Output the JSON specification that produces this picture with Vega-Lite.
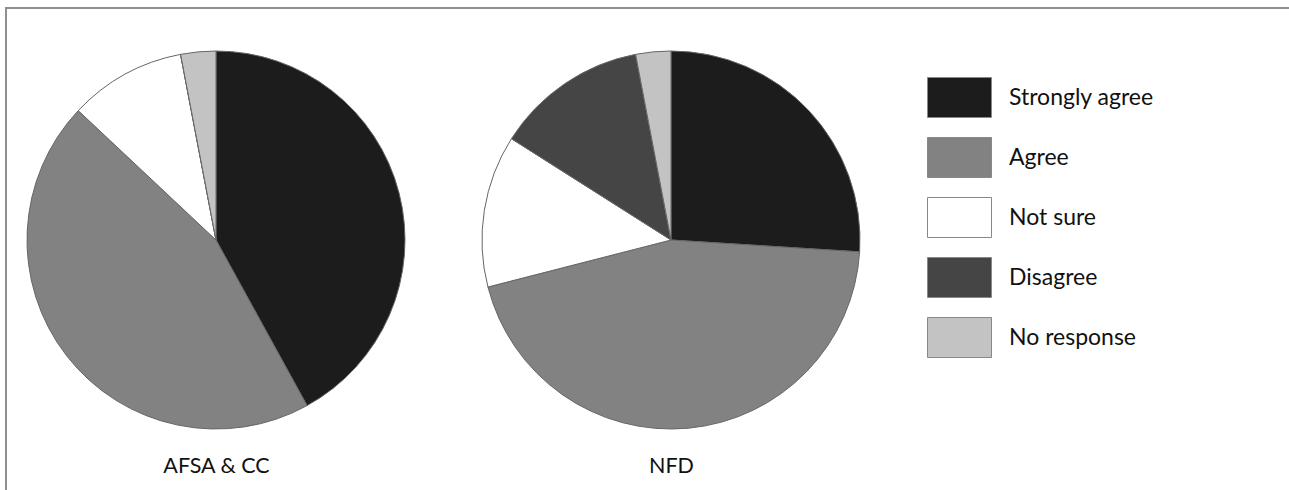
{
  "$schema": "https://vega.github.io/schema/vega-lite/v6.json",
  "width": 1283,
  "height": 482,
  "autosize": "none",
  "padding": {"left": 6, "top": 8, "right": 0, "bottom": 0},
  "background": "white",
  "config": {
    "view": {"stroke": "#8f8f8f", "strokeWidth": 2, "strokeDash": [1283, 1765, 482]},
    "font": "Lato"
  },
  "data": {
    "values": [
      {"group": "AFSA & CC", "response": "Strongly agree", "order": 1, "value": 42},
      {"group": "AFSA & CC", "response": "Agree", "order": 2, "value": 45},
      {"group": "AFSA & CC", "response": "Not sure", "order": 3, "value": 10},
      {"group": "AFSA & CC", "response": "Disagree", "order": 4, "value": 0},
      {"group": "AFSA & CC", "response": "No response", "order": 5, "value": 3},
      {"group": "NFD", "response": "Strongly agree", "order": 1, "value": 26},
      {"group": "NFD", "response": "Agree", "order": 2, "value": 45},
      {"group": "NFD", "response": "Not sure", "order": 3, "value": 13},
      {"group": "NFD", "response": "Disagree", "order": 4, "value": 13},
      {"group": "NFD", "response": "No response", "order": 5, "value": 3}
    ]
  },
  "transform": [
    {"stack": "value", "groupby": ["group"], "sort": [{"field": "order", "order": "ascending"}], "as": ["v0", "v1"]}
  ],
  "mark": {"type": "arc", "outerRadius": 189, "stroke": "#666666", "strokeWidth": 1, "yOffset": -9},
  "encoding": {
    "x": {
      "field": "group",
      "type": "nominal",
      "scale": {"type": "point", "domain": ["AFSA & CC", "NFD"], "range": [210, 665], "padding": 0},
      "axis": {
        "orient": "bottom",
        "title": null,
        "domain": false,
        "ticks": false,
        "tickSize": 0,
        "labelPadding": 0,
        "offset": -18,
        "labelBaseline": "alphabetic",
        "labelFont": "Lato",
        "labelFontSize": 21.5,
        "labelColor": "#111111",
        "labelAngle": 0,
        "grid": false
      }
    },
    "theta": {"field": "v0", "type": "quantitative", "scale": {"domain": [0, 100], "range": [0, 6.283185307179586]}},
    "theta2": {"field": "v1"},
    "color": {
      "field": "response",
      "type": "nominal",
      "scale": {
        "domain": ["Strongly agree", "Agree", "Not sure", "Disagree", "No response"],
        "range": ["#1c1c1c", "#828282", "#ffffff", "#454545", "#c3c3c3"]
      },
      "legend": {
        "orient": "none",
        "legendX": 933,
        "legendY": 69,
        "title": null,
        "symbolType": "M-1.6,-1H1.6V1H-1.6Z",
        "symbolSize": 1600,
        "symbolStrokeColor": "#888888",
        "symbolStrokeWidth": 1,
        "symbolOpacity": 1,
        "rowPadding": 15,
        "labelOffset": 29,
        "labelFont": "Lato",
        "labelFontSize": 23,
        "labelColor": "#111111",
        "labelLimit": 300,
        "padding": 0
      }
    }
  }
}
